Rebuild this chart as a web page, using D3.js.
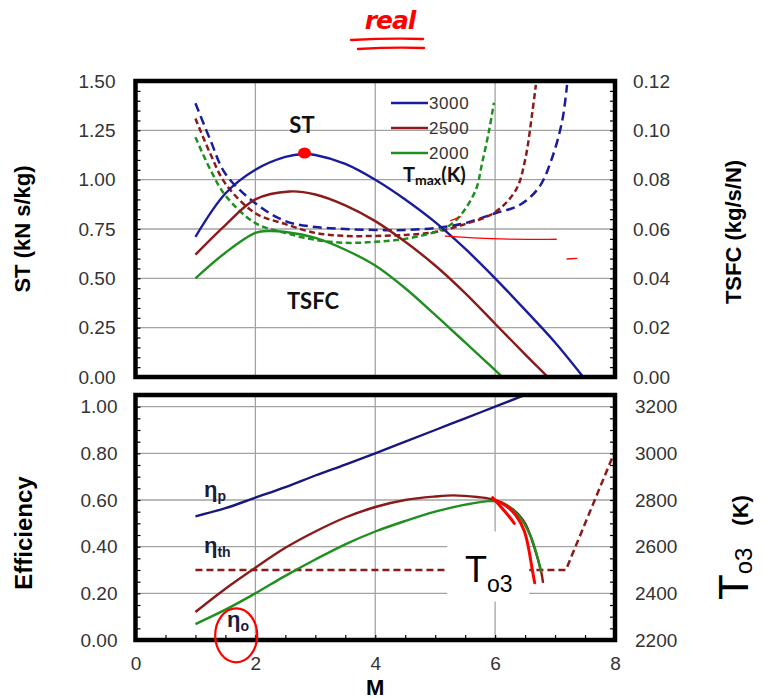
<!DOCTYPE html>
<html><head><meta charset="utf-8">
<script src="https://cdn.jsdelivr.net/npm/d3@7"></script>
<style>body{margin:0;background:#fff}svg{display:block}</style>
</head><body>
<svg id="c" width="765" height="699"></svg>
<script>
// ---------- DATA ----------
// Specific thrust ST (kN s/kg) vs flight Mach number, for Tmax = 3000, 2500, 2000 K
const stM3000 = [1,1.5,2,2.5,2.8,3,3.5,4,4.5,5,5.5,6,6.5,7,7.47];
const st3000  = [0.71,0.93,1.05,1.115,1.13,1.125,1.08,1.0,0.90,0.785,0.65,0.5,0.34,0.175,0];
const stM2500 = [1,1.5,2,2.57,3,3.5,4,4.5,5,5.5,6,6.5,6.88];
const st2500  = [0.62,0.77,0.90,0.94,0.925,0.87,0.79,0.685,0.565,0.425,0.27,0.115,0];
const stM2000 = [1,1.5,2,2.23,2.5,3,3.5,4,4.5,5,5.5,6,6.12];
const st2000  = [0.50,0.63,0.73,0.74,0.735,0.705,0.645,0.565,0.45,0.315,0.175,0.035,0];
// TSFC (kg/s/N)
const tsM3000 = [1,1.25,1.5,2,2.5,3,3.5,4,4.5,5,5.5,6,6.4,6.73,6.95,7.12,7.2];
const ts3000  = [0.111,0.096,0.0824,0.0704,0.0632,0.0608,0.060,0.0596,0.0596,0.0604,0.0624,0.0664,0.0696,0.0768,0.0888,0.104,0.1184];
const tsM2500 = [1,1.25,1.5,2,2.5,3,3.5,4,4.5,5,5.5,6,6.35,6.5,6.62,6.68];
const ts2500  = [0.1048,0.0904,0.0784,0.0664,0.062,0.0584,0.0572,0.0572,0.0576,0.0588,0.062,0.0668,0.076,0.088,0.1072,0.1184];
const tsM2000 = [1,1.25,1.5,2,2.5,3,3.5,4,4.5,5,5.25,5.45,5.68,5.78,5.9,5.98];
const ts2000  = [0.0972,0.084,0.0736,0.0624,0.0584,0.0556,0.0544,0.0548,0.056,0.0588,0.0616,0.0664,0.076,0.0864,0.10,0.1112];
// Efficiencies
const etaPM  = [1,1.5,2,2.5,3,3.5,4,4.5,5,5.5,6,6.5];
const etaP   = [0.53,0.565,0.61,0.655,0.705,0.752,0.80,0.85,0.90,0.95,1.0,1.05];
const etaThM = [1,1.5,2,2.5,3,3.5,4,4.5,5,5.3,5.7,6,6.3,6.5,6.65,6.77,6.8];
const etaTh  = [0.12,0.22,0.31,0.395,0.465,0.525,0.57,0.60,0.615,0.62,0.613,0.60,0.56,0.50,0.40,0.29,0.245];
const etaOM  = [1,1.5,2,2.5,3,3.5,4,4.5,5,5.5,5.9,6.1,6.4,6.6,6.7,6.77];
const etaO   = [0.068,0.13,0.20,0.275,0.345,0.41,0.465,0.51,0.55,0.58,0.595,0.59,0.53,0.44,0.36,0.29];
// Burner exit temperature To3 (K)
const tO3M = [1,7.18,8];
const tO3  = [2500,2500,3010];
// Tick labels
const xTicks = [0,2,4,6,8];
const stTicks = [0,0.25,0.5,0.75,1.0,1.25,1.5];
const tsfcTicks = [0,0.02,0.04,0.06,0.08,0.10,0.12];
const effTicks = [0,0.2,0.4,0.6,0.8,1.0];
const tTicks = [2200,2400,2600,2800,3000,3200];
const legendLabels = ["3000","2500","2000"];
// Hand-drawn red annotation marks (in data coordinates)
const redDot = [2.82,1.135];
const redLineTop = [[5.17,0.714],[5.6,0.705],[6.2,0.697],[7.02,0.698]];
const redDashA = [[5.26,0.792],[5.42,0.812]];
const redDashB = [[7.2,0.598],[7.36,0.601]];
const redScribble1 = [[5.98,0.60],[6.15,0.585],[6.35,0.54],[6.5,0.47],[6.57,0.38],[6.62,0.30],[6.66,0.245]];
const redScribble2 = [[5.96,0.61],[6.1,0.57],[6.25,0.525],[6.32,0.50]];
const redCircle = [1.68,0.02];

// ---------- SCALES ----------
const svg = d3.select('#c');
const L = 135.5, R = 615;
const x = d3.scaleLinear().domain([0,8]).range([L,R]);
const yST = d3.scaleLinear().domain([0,1.5]).range([377,81]);
const yTS = d3.scaleLinear().domain([0,0.12]).range([377,81]);
const yEff = d3.scaleLinear().domain([0,1.05]).range([640,395]);
const yT = d3.scaleLinear().domain([2200,3250]).range([640,395]);

const BLUE = '#1b1b9e', RED = '#8b1a1a', GREEN = '#1f8f1f', NAVY = '#17177f';
const TICKFONT = "'Liberation Sans', Arial, sans-serif";
const GRID = '#a3a3a3';
const SMOOTH = d3.curveCatmullRom.alpha(0.5);

const defs = svg.append('defs');
defs.append('clipPath').attr('id','clipTop').append('rect')
  .attr('x',L).attr('y',81).attr('width',R-L).attr('height',377-81);
defs.append('clipPath').attr('id','clipBot').append('rect')
  .attr('x',L).attr('y',395).attr('width',R-L).attr('height',640-395);

// ---------- GRIDS ----------
function grid(g, yScale, yVals, y0, y1){
  g.selectAll('.gx').data([2,4,6]).join('line')
    .attr('x1',d=>x(d)).attr('x2',d=>x(d)).attr('y1',y0).attr('y2',y1)
    .attr('stroke',GRID).attr('stroke-width',1.3);
  g.selectAll('.gy').data(yVals).join('line')
    .attr('x1',L).attr('x2',R).attr('y1',d=>yScale(d)).attr('y2',d=>yScale(d))
    .attr('stroke',GRID).attr('stroke-width',1.3);
}
grid(svg.append('g'), yST, [0.25,0.5,0.75,1.0,1.25], 81, 377);
grid(svg.append('g'), yEff, [0.2,0.4,0.6,0.8,1.0], 395, 640);

// ---------- LINE HELPERS ----------
function series(ms, vs){ return ms.map((m,i)=>[m,vs[i]]); }
function drawLine(g, data, ys, color, dash, width, curve){
  const gen = d3.line().x(d=>x(d[0])).y(d=>ys(d[1])).curve(curve||SMOOTH);
  return g.append('path').datum(data).attr('d',gen).attr('fill','none')
    .attr('stroke',color).attr('stroke-width',width||2.4)
    .attr('stroke-dasharray',dash||null).attr('stroke-linejoin','round');
}

// ---------- TOP PANEL ----------
const topG = svg.append('g').attr('clip-path','url(#clipTop)');
drawLine(topG, series(tsM3000,ts3000), yTS, BLUE, '9,5', 2.5);
drawLine(topG, series(tsM2500,ts2500), yTS, RED, '6,3.5', 2.5);
drawLine(topG, series(tsM2000,ts2000), yTS, GREEN, '6,3.5', 2.5);
drawLine(topG, series(stM3000,st3000), yST, BLUE, null, 2.4);
drawLine(topG, series(stM2500,st2500), yST, RED, null, 2.4);
drawLine(topG, series(stM2000,st2000), yST, GREEN, null, 2.4);

// ---------- BOTTOM PANEL ----------
const botG = svg.append('g').attr('clip-path','url(#clipBot)');
drawLine(botG, series(tO3M,tO3), yT, RED, '7,4', 2.5, d3.curveLinear);
// white label box for To3 (covers grid and dashed line)
botG.append('rect').attr('x',x(5.2)).attr('y',yEff(0.465)).attr('width',x(6.57)-x(5.2)).attr('height',yEff(0.165)-yEff(0.465)).attr('fill','#fff');
drawLine(botG, series(etaPM,etaP), yEff, NAVY, null, 2.4);
drawLine(botG, series(etaThM,etaTh), yEff, RED, null, 2.4);
drawLine(botG, series(etaOM,etaO), yEff, GREEN, null, 2.4);

// ---------- MINOR TICKS ----------
function minorTicks(yScale, step, lo, hi, yBottomEdge, xTicksToo){
  const vals = d3.range(lo, hi+1e-9, step);
  svg.append('g').attr('transform',`translate(${L},0)`)
    .call(d3.axisRight(yScale).tickValues(vals).tickSize(5).tickFormat(''))
    .call(a=>a.select('.domain').remove())
    .selectAll('line').attr('stroke','#000').attr('stroke-width',1.2);
  svg.append('g').attr('transform',`translate(${R},0)`)
    .call(d3.axisLeft(yScale).tickValues(vals).tickSize(5).tickFormat(''))
    .call(a=>a.select('.domain').remove())
    .selectAll('line').attr('stroke','#000').attr('stroke-width',1.2);
  if(xTicksToo){
    svg.append('g').attr('transform',`translate(0,${yBottomEdge})`)
      .call(d3.axisTop(x).tickValues(d3.range(0.5,8,0.5)).tickSize(5).tickFormat(''))
      .call(a=>a.select('.domain').remove())
      .selectAll('line').attr('stroke','#000').attr('stroke-width',1.2);
  }
}
minorTicks(yST, 0.05, 0.05, 1.45, 377, false);
minorTicks(yEff, 0.05, 0.05, 1.0, 640, true);

// ---------- FRAMES ----------
svg.append('rect').attr('x',L).attr('y',81).attr('width',R-L).attr('height',377-81)
  .attr('fill','none').attr('stroke','#000').attr('stroke-width',4.5);
svg.append('rect').attr('x',L).attr('y',395).attr('width',R-L).attr('height',640-395)
  .attr('fill','none').attr('stroke','#000').attr('stroke-width',4.5);

// ---------- TICK LABELS ----------
function styleText(sel){ sel.selectAll('text').attr('font-size',19).attr('font-family',TICKFONT).attr('fill','#333'); }
svg.append('g').attr('transform',`translate(${L},0)`)
  .call(d3.axisLeft(yST).tickValues(stTicks).tickFormat(d3.format('.2f')).tickSize(0).tickPadding(20))
  .call(a=>a.select('.domain').remove()).call(styleText);
svg.append('g').attr('transform',`translate(${R},0)`)
  .call(d3.axisRight(yTS).tickValues(tsfcTicks).tickFormat(d3.format('.2f')).tickSize(0).tickPadding(18))
  .call(a=>a.select('.domain').remove()).call(styleText);
svg.append('g').attr('transform',`translate(${L},0)`)
  .call(d3.axisLeft(yEff).tickValues(effTicks).tickFormat(d3.format('.2f')).tickSize(0).tickPadding(18))
  .call(a=>a.select('.domain').remove()).call(styleText);
svg.append('g').attr('transform',`translate(${R},0)`)
  .call(d3.axisRight(yT).tickValues(tTicks).tickFormat(d3.format('d')).tickSize(0).tickPadding(20))
  .call(a=>a.select('.domain').remove()).call(styleText);
svg.append('g').attr('transform',`translate(0,640)`)
  .call(d3.axisBottom(x).tickValues(xTicks).tickFormat(d3.format('d')).tickSize(0).tickPadding(17))
  .call(a=>a.select('.domain').remove()).call(styleText);

// ---------- AXIS TITLES ----------
const BOLD = "Arial, 'Liberation Sans', sans-serif";
svg.append('text').attr('transform','translate(30,229) rotate(-90)').attr('text-anchor','middle')
  .attr('font-family',BOLD).attr('font-weight','bold').attr('font-size',22).attr('fill','#000').text('ST (kN s/kg)');
svg.append('text').attr('transform','translate(32,533) rotate(-90)').attr('text-anchor','middle')
  .attr('font-family',BOLD).attr('font-weight','bold').attr('font-size',24).attr('fill','#000').text('Efficiency');
svg.append('text').attr('transform','translate(741,232) rotate(-90)').attr('text-anchor','middle')
  .attr('font-family',BOLD).attr('font-weight','bold').attr('font-size',22).attr('fill','#000').text('TSFC (kg/s/N)');
const tt = svg.append('text').attr('transform','translate(748,600) rotate(-90)').attr('text-anchor','start')
  .attr('font-family',TICKFONT).attr('fill','#000');
tt.append('tspan').attr('font-size',42).text('T');
tt.append('tspan').attr('font-size',24).attr('dy',4).text('o3');
tt.append('tspan').attr('font-size',22).attr('font-weight','bold').attr('dx',22).attr('dy',-4).text('(K)');
svg.append('text').attr('x',x(4)).attr('y',695).attr('text-anchor','middle')
  .attr('font-family',BOLD).attr('font-weight','bold').attr('font-size',22).attr('fill','#000').text('M');

// ---------- LEGEND ----------
const legColors = [BLUE, RED, GREEN];
const leg = svg.append('g');
legendLabels.forEach((lab,i)=>{
  const yy = 103 + i*25;
  leg.append('line').attr('x1',391).attr('x2',428).attr('y1',yy).attr('y2',yy)
    .attr('stroke',legColors[i]).attr('stroke-width',2.6);
  leg.append('text').attr('x',429).attr('y',yy+6).attr('font-family',TICKFONT).attr('font-size',17)
    .attr('letter-spacing',0.6).attr('fill','#333').text(lab);
});
const tm = leg.append('text').attr('x',403).attr('y',182).attr('font-family',"Lato, 'Liberation Sans', sans-serif")
  .attr('font-weight','bold').attr('fill','#111');
tm.append('tspan').attr('font-size',20).text('T');
tm.append('tspan').attr('font-size',14).attr('dy',3).text('max');
tm.append('tspan').attr('font-size',20).attr('dy',-3).text('(K)');

// ---------- IN-PLOT LABELS ----------
const LAB = "Lato, 'Liberation Sans', sans-serif";
svg.append('text').attr('x',302).attr('y',133).attr('text-anchor','middle').attr('font-family',LAB)
  .attr('font-weight','bold').attr('font-size',22).attr('fill','#111').text('ST');
svg.append('text').attr('x',313).attr('y',309).attr('text-anchor','middle').attr('font-family',LAB)
  .attr('font-weight','bold').attr('font-size',22).attr('fill','#111').text('TSFC');
function etaLabel(px, py, sub){
  const t = svg.append('text').attr('x',px).attr('y',py).attr('font-family',TICKFONT)
    .attr('font-weight','bold').attr('fill','#1b1b3a');
  t.append('tspan').attr('font-size',22).text('η');
  t.append('tspan').attr('font-size',14).attr('dy',4).text(sub);
}
etaLabel(204, 497, 'p');
etaLabel(204, 553, 'th');
etaLabel(227, 627, 'o');
const to = svg.append('text').attr('x',465).attr('y',582).attr('font-family',TICKFONT).attr('fill','#000');
to.append('tspan').attr('font-size',36).text('T');
to.append('tspan').attr('font-size',23).attr('dy',10).text('o3');

// ---------- RED HAND-DRAWN ANNOTATIONS ----------
const redG = svg.append('g').attr('fill','none').attr('stroke','#f00').attr('stroke-linecap','round');
const rl = (ys)=>d3.line().x(d=>x(d[0])).y(d=>ys(d[1])).curve(d3.curveBasis);
redG.append('path').datum(redLineTop).attr('d',rl(yST)).attr('stroke-width',1.3);
redG.append('path').datum(redDashA).attr('d',rl(yST)).attr('stroke-width',1.3);
redG.append('path').datum(redDashB).attr('d',rl(yST)).attr('stroke-width',1.3);
redG.append('path').datum(redScribble1).attr('d',rl(yEff)).attr('stroke-width',3);
redG.append('path').datum(redScribble2).attr('d',rl(yEff)).attr('stroke-width',3);
redG.append('ellipse').attr('cx',x(redCircle[0])).attr('cy',yEff(redCircle[1]))
  .attr('rx',21).attr('ry',27).attr('stroke-width',2.2);
svg.append('ellipse').attr('cx',x(redDot[0])).attr('cy',yST(redDot[1])).attr('rx',6.5).attr('ry',5.5).attr('fill','#f00');
svg.append('text').attr('x',390).attr('y',29).attr('text-anchor','middle')
  .attr('font-family',"'DejaVu Sans', sans-serif").attr('font-weight','bold').attr('font-style','italic')
  .attr('font-size',25).attr('letter-spacing',-1).attr('fill','#f00').text('real');
redG.append('path').attr('d','M351,40 Q390,38 423,39').attr('stroke-width',2.4);
redG.append('path').attr('d','M358,49 Q392,47 424,48').attr('stroke-width',2.4);
</script>
</body></html>
